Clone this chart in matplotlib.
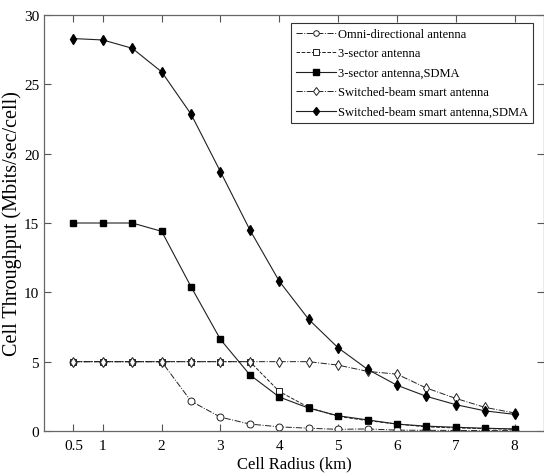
import matplotlib
matplotlib.use('Agg')
import matplotlib.pyplot as plt

plt.rcParams['font.family'] = ['Liberation Serif', 'DejaVu Serif']

# Dados
raio = [0.5, 1, 1.5, 2, 2.5, 3, 3.5, 4, 4.5, 5, 5.5, 6, 6.5, 7, 7.5, 8]
omni = [5, 5, 5, 5, 2.15, 1.0, 0.5, 0.3, 0.2, 0.12, 0.15, 0.06, 0.05, 0.04, 0.03, 0.03]
setor3 = [5, 5, 5, 5, 5, 5, 5.0, 2.85, 1.7, 1.05, 0.75, 0.5, 0.3, 0.22, 0.17, 0.12]
setor3_sdma = [15, 15, 15, 14.4, 10.4, 6.6, 4.05, 2.45, 1.65, 1.1, 0.8, 0.5, 0.35, 0.27, 0.2, 0.15]
switched = [5, 5, 5, 5, 5, 5, 5, 5, 5.0, 4.75, 4.3, 4.1, 3.1, 2.35, 1.7, 1.3]
switched_sdma = [28.3, 28.2, 27.6, 25.9, 22.85, 18.7, 14.5, 10.8, 8.05, 6.0, 4.45, 3.3, 2.5, 1.9, 1.45, 1.2]

xticks = [0.5, 1, 2, 3, 4, 5, 6, 7, 8]
xticklabels = ['0.5', '1', '2', '3', '4', '5', '6', '7', '8']

fig = plt.figure(figsize=(5.44, 4.77), dpi=100)
ax = fig.add_axes([44 / 544, 45 / 477, 500 / 544, 416 / 477])

cor = '#202020'
ax.plot(raio, omni, linestyle='-.', color=cor, lw=0.7, marker='o', ms=5,
        mfc='white', mec=cor, mew=0.7, label='Omni-directional antenna')
ax.plot(raio, setor3, linestyle='--', color=cor, lw=0.7, marker='s', ms=5,
        mfc='white', mec=cor, mew=0.7, label='3-sector antenna')
ax.plot(raio, setor3_sdma, linestyle='-', color=cor, lw=0.8, marker='s', ms=5,
        mfc='black', mec='black', label='3-sector antenna,SDMA')
ax.plot(raio, switched, linestyle='-.', color=cor, lw=0.7, marker='d', ms=5.5,
        mfc='white', mec=cor, mew=0.7, label='Switched-beam smart antenna')
ax.plot(raio, switched_sdma, linestyle='-', color=cor, lw=0.8, marker='d', ms=5.5,
        mfc='black', mec='black', label='Switched-beam smart antenna,SDMA')

ax.set_xlim(0, 8.5)
ax.set_ylim(0, 30)
ax.set_xticks(xticks)
ax.set_xticklabels(xticklabels)
ax.set_yticks([0, 5, 10, 15, 20, 25, 30])
ax.tick_params(direction='in', top=True, right=True, length=5, labelsize=11,
               color='#555555', width=0.8)
ax.tick_params(axis='x', pad=6)
for s in ax.spines.values():
    s.set_color('#666666')
    s.set_linewidth(0.9)

ax.set_xlabel('Cell Radius (km)', fontsize=12, labelpad=2)
ax.set_ylabel('Cell Throughput (Mbits/sec/cell)', fontsize=14.5)
ax.yaxis.set_label_coords(-0.044, 0.5)

leg = ax.legend(loc='upper right', bbox_to_anchor=(0.978, 0.981), fontsize=9,
                frameon=True, fancybox=False, edgecolor='black', handlelength=3.2,
                borderpad=0.4, labelspacing=0.6, handletextpad=0.2, borderaxespad=0,
                markerscale=0.8)
leg.get_frame().set_linewidth(0.8)

plt.savefig('out.png', dpi=100)
